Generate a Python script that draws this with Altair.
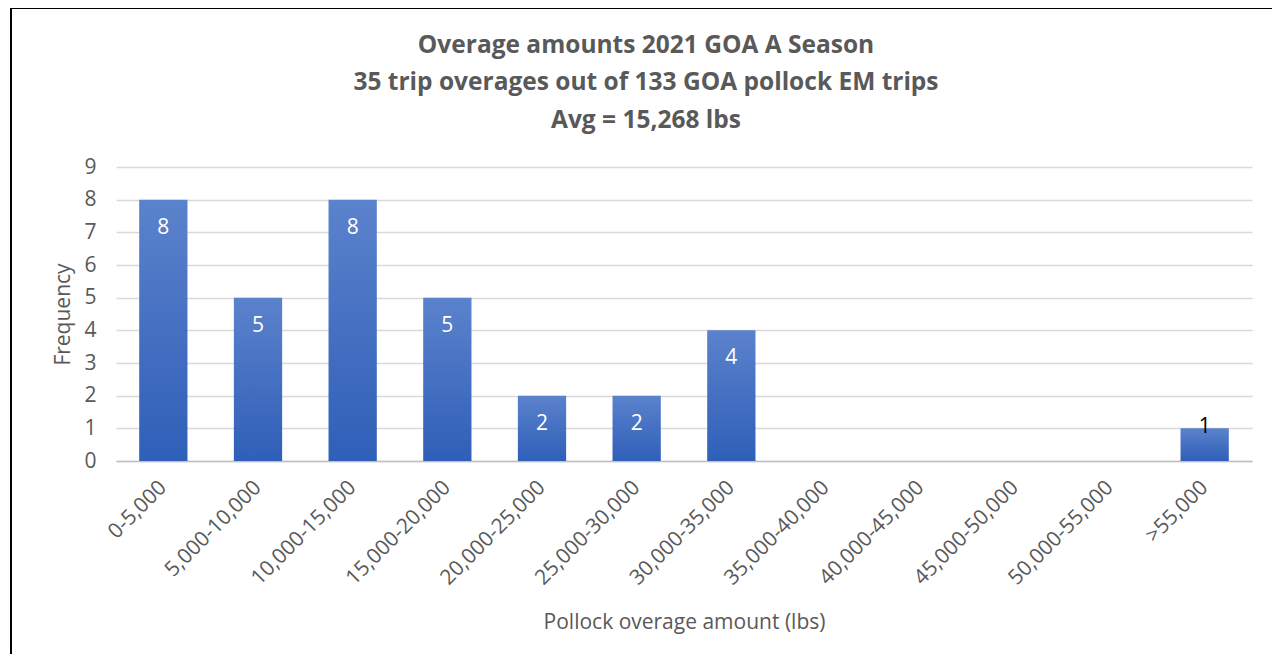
import altair as alt
import pandas as pd

categories = ["0-5,000", "5,000-10,000", "10,000-15,000", "15,000-20,000",
              "20,000-25,000", "25,000-30,000", "30,000-35,000", "35,000-40,000",
              "40,000-45,000", "45,000-50,000", "50,000-55,000", ">55,000"]
frequency = [8, 5, 8, 5, 2, 2, 4, 0, 0, 0, 0, 1]
title_lines = ["Overage amounts 2021 GOA A Season",
               "35 trip overages out of 133 GOA pollock EM trips",
               "Avg = 15,268 lbs"]

df = pd.DataFrame({"bin": categories, "freq": frequency})

FONT = "Open Sans"
GRAY = "#595959"

x_enc = alt.X("bin:N", sort=categories,
              scale=alt.Scale(paddingInner=0.49, paddingOuter=0.245),
              axis=alt.Axis(title="Pollock overage amount (lbs)", labelAngle=-45,
                            labelAlign="right", labelBaseline="middle",
                            labelPadding=23, ticks=False, domainColor="#bfbfbf",
                            domainWidth=1.5, titlePadding=23))
y_enc = alt.Y("freq:Q", scale=alt.Scale(domain=[0, 9], nice=False),
              axis=alt.Axis(title="Frequency", values=list(range(10)), ticks=False,
                            domain=False, labelPadding=20, titlePadding=10,
                            gridColor="#d9d9d9", gridWidth=1.5))

base = alt.Chart(df).encode(x=x_enc, y=y_enc)

bars = base.mark_bar(
    color=alt.Gradient(gradient="linear", x1=0, y1=0, x2=0, y2=1,
                       stops=[alt.GradientStop(color="#5b82cc", offset=0),
                              alt.GradientStop(color="#2f5fb8", offset=1)])
)

labels_in = base.transform_filter("datum.freq >= 2").mark_text(
    color="white", fontSize=21, font=FONT, baseline="middle", dy=28
).encode(text="freq:Q")

labels_out = base.transform_filter("datum.freq > 0 && datum.freq < 2").mark_text(
    color="black", fontSize=21, font=FONT, baseline="middle", dy=-1
).encode(text="freq:Q")

frame_data = alt.Data(values=[{"k": 0}])
frame_left = alt.Chart(frame_data).mark_rule(color="black", strokeWidth=2).encode(
    x=alt.value(-105), y=alt.value(-159), y2=alt.value(520))
frame_top = alt.Chart(frame_data).mark_rule(color="black", strokeWidth=2).encode(
    x=alt.value(-106), x2=alt.value(1200), y=alt.value(-159))

chart = alt.layer(bars, labels_in, labels_out, frame_left, frame_top).properties(
    width=1136, height=294,
    autosize=alt.AutoSizeParams(type="none"),
    padding={"left": 108, "top": 159, "right": 20, "bottom": 193},
    title=alt.TitleParams(text=title_lines, font=FONT, fontSize=24.5, fontWeight="bold",
                          color=GRAY, anchor="middle", lineHeight=37.5, baseline="top",
                          offset=-126, dx=-38),
).configure(background="white").configure_view(stroke=None).configure_axis(
    labelFont=FONT, titleFont=FONT, labelFontSize=21, titleFontSize=21,
    labelColor=GRAY, titleColor=GRAY, titleFontWeight="normal"
)

chart.save("out.html", embed_options={"renderer": "svg", "actions": False})
